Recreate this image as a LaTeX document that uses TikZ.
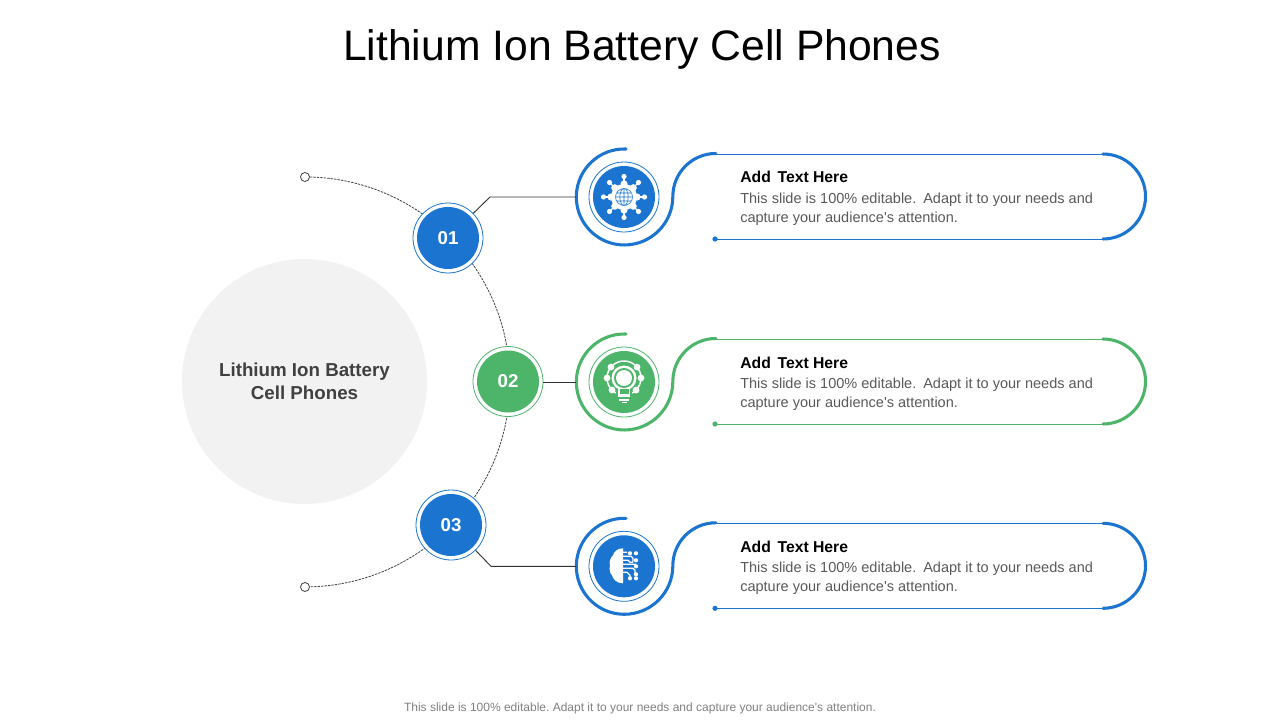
\documentclass[tikz,border=0pt]{standalone}
\usepackage{fontspec}
\setmainfont{Liberation Sans}
\newfontfamily\plainf{Liberation Sans}
\definecolor{myblue}{HTML}{1B75D0}
\definecolor{mygreen}{HTML}{4DB56A}
\definecolor{dgrey}{HTML}{404040}
\definecolor{bodygrey}{HTML}{595959}
\tikzset{
  hubfill/.style={circle,minimum size=62*0.75pt,inner sep=0pt,fill=#1,text=white,font=\fontsize{14pt}{17pt}\selectfont\bfseries},
  ringline/.style={circle,minimum size=70*0.75pt,inner sep=0pt,draw=#1,line width=0.6pt,fill=white},
  thick line/.style={line width=2.3pt,color=#1,line cap=round},
  thin line/.style={line width=0.6pt,color=#1},
  conn/.style={line width=0.7pt,color=black!80},
  dashedarc/.style={line width=0.6pt,color=black!75,dash pattern=on 1.8pt off 0.8pt},
  endcap/.style={circle,draw=black!75,fill=white,line width=0.6pt,minimum size=9*0.75pt,inner sep=0pt},
  headtext/.style={anchor=west,inner sep=0pt,font=\plainf\fontsize{11.8pt}{14pt}\selectfont\bfseries,text=black},
  bodytext/.style={anchor=north west,inner sep=0pt,align=left,font=\plainf\frenchspacing\fontsize{10.9pt}{13.7pt}\selectfont,text=bodygrey}
}
\newcommand{\rowpanel}[3]{%
  \begin{scope}[shift={(0,#2)}]
    \node[ringline=#3] (ring#1) at (624,197) {};
    \node[circle,minimum size=62*0.75pt,inner sep=0pt,fill=#3] (disc#1) at (624,197) {};
    \coordinate (port#1) at (576,197);
    \draw[thick line=#3] (626,149) arc[start angle=88,end angle=270,radius=48*0.75pt] arc[start angle=-90,end angle=0,radius=48.5*0.75pt] arc[start angle=180,end angle=90,radius=43*0.75pt];
    \draw[thin line=#3] (716,154) -- (1103,154);
    \draw[thick line=#3] (1103,154) arc[start angle=90,end angle=-90,radius=42.5*0.75pt];
    \draw[thin line=#3] (1103,239) -- (715,239);
    \fill[#3] (715,239) circle[radius=2.6*0.75pt];
  \end{scope}}
\begin{document}
\begin{tikzpicture}[x=0.75pt,y=-0.75pt]
\useasboundingbox (0,0) rectangle (1280,720);
\node[font=\fontsize{32pt}{38pt}\selectfont] (title) at (642,49) {Lithium Ion Battery Cell Phones};
\node[circle,fill=black!5,minimum size=245*0.75pt,inner sep=0pt,align=center,text=dgrey,font=\fontsize{14.05pt}{17.2pt}\selectfont\bfseries] (main) at (304.5,381.5) {Lithium Ion Battery\\Cell Phones};
% dashed arc
\node[endcap] (endA) at (305,177) {};
\node[endcap] (endB) at (305,587) {};
\draw[dashedarc] (endA.east) arc[start angle=88.6,end angle=-88.6,radius=205*0.75pt];
% panels
\rowpanel{1}{0}{myblue}
\rowpanel{2}{185}{mygreen}
\rowpanel{3}{369.3}{myblue}
% hubs
\node[ringline=myblue] (r1) at (448,238) {};
\node[ringline=mygreen] (r2) at (508,381.5) {};
\node[ringline=myblue] (r3) at (451,525) {};
\node[hubfill=myblue] (h1) at (448,238) {01};
\node[hubfill=mygreen] (h2) at (508,381.5) {02};
\node[hubfill=myblue] (h3) at (451,525) {03};
% connectors
\coordinate (k1) at (490,197);
\coordinate (k3) at (491,566.3);
\draw[conn] (r1) -- (k1) -- (port1);
\draw[conn] (r2.east |- port2) -- (port2);
\draw[conn] (r3) -- (k3) -- (port3);
% icon 1: network globe
\begin{scope}[shift={(624,197)}]
  \fill[white] (0,0) circle[radius=13];
  \foreach \a in {0,45,...,315}{
    \draw[white,line width=1pt] (0,0) -- (\a:20);
    \fill[white] (\a:20.5) circle[radius=2.6];
    \fill[white] (\a:13) circle[radius=3.6];
  }
  \draw[myblue,line width=0.45pt] (0,0) circle[radius=8.5] (-8.5,0) -- (8.5,0) (0,-8.5) -- (0,8.5)
     (0,0) ellipse[x radius=4.2,y radius=8.5] (-7.5,-4) -- (7.5,-4) (-7.5,4) -- (7.5,4);
\end{scope}
% icon 2: bulb in gear
\begin{scope}[shift={(624,378)}]
  \draw[white,line width=1.1pt] (0,0) circle[radius=17];
  \foreach \a in {90,45,135,0,180,-40,220}{\fill[white] (\a:17) circle[radius=3.4];}
  \fill[mygreen] (-8,12) rectangle (8,26);
  \fill[white] (0,0) circle[radius=12.5];
  \fill[white] (-6,9) rectangle (6,17);
  \fill[mygreen] (0,0) circle[radius=10];
  \fill[white] (0,0) circle[radius=8];
  \fill[mygreen] (-4.5,10.5) rectangle (4.5,15.5);
  \fill[white] (-6,16.5) rectangle (6,19);
  \fill[white] (-5,20.5) rectangle (5,22.5);
  \fill[white] (-2.5,23.5) rectangle (2.5,25);
\end{scope}
% icon 3: brain and circuits
\begin{scope}[shift={(624,566.3)}]
  \fill[white] (-1,-18) .. controls (-6,-18) and (-10,-15) .. (-11,-11) .. controls (-14,-8) and (-15,-4) .. (-14,-1) .. controls (-15,3) and (-14,7) .. (-12,9) .. controls (-11,13) and (-7,17) .. (-1,17) -- cycle;
  \draw[white,line width=0.85pt] (-1,-10) -- (7,-10) -- (9,-8) -- (9,-5) (-1,-6) -- (4,-6) -- (6,-4) -- (9,-4) (-1,-2) -- (12,-2)
    (-1,2) -- (9,2) -- (11,4) -- (11,8) (-1,6) -- (3,6) -- (6,9) -- (6,11) (-1,-14) -- (3,-14);
  \foreach \p in {(6,-13),(12,-13),(12,-6),(12,0),(12,8),(6,12),(12,12)}{\fill[white] \p circle[radius=2.1];}
\end{scope}
% texts
\node[headtext] (t1) at (740,177) {Add\hspace{0.15em} Text Here};
\node[bodytext] (b1) at (740,193) {This slide is 100\% editable.\hspace{0.2em} Adapt it to your needs and\\capture your audience's attention.};
\node[headtext] (t2) at (740,363) {Add\hspace{0.15em} Text Here};
\node[bodytext] (b2) at (740,378) {This slide is 100\% editable.\hspace{0.2em} Adapt it to your needs and\\capture your audience's attention.};
\node[headtext] (t3) at (740,547) {Add\hspace{0.15em} Text Here};
\node[bodytext] (b3) at (740,562) {This slide is 100\% editable.\hspace{0.2em} Adapt it to your needs and\\capture your audience's attention.};
\node[font=\plainf\frenchspacing\fontsize{9pt}{11pt}\selectfont,text=black!50] (foot) at (640,708) {This slide is 100\% editable. Adapt it to your needs and capture your audience's attention.};
\end{tikzpicture}
\end{document}
